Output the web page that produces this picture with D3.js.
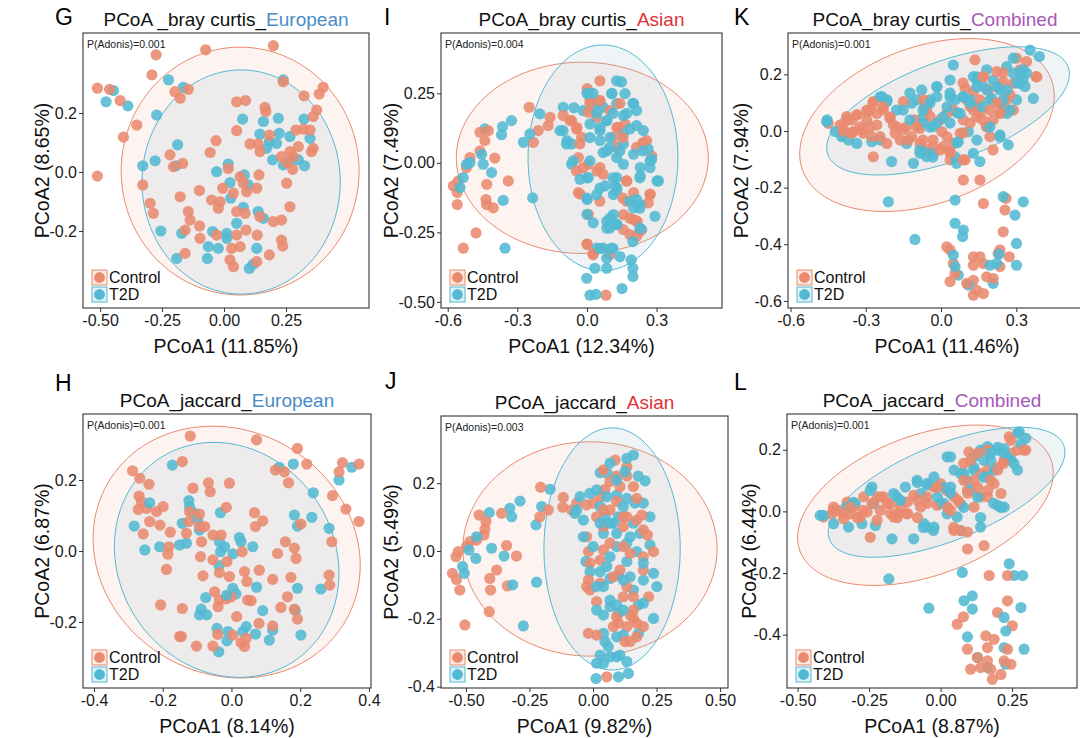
<!DOCTYPE html>
<html><head><meta charset="utf-8">
<script src="https://cdn.jsdelivr.net/npm/d3@7"></script>
<style>body{margin:0;background:#fff}svg{display:block}text{font-family:"Liberation Sans",Arial,sans-serif}</style>
</head><body><svg id="c" width="1080" height="738"></svg>
<script>
// ---------------- DATA ----------------
const groups = ["Control", "T2D"];
const groupColors = ["#E98A6E", "#52B9D3"];

// Panel G: bray curtis, European
const brayEuControl = [[0.199,0.428],[-0.074,0.414],[-0.274,0.397],[-0.291,0.329],[-0.511,0.284],[-0.462,0.280],[-0.419,0.242],[-0.198,0.272],[-0.177,0.250],[-0.144,0.280],[-0.352,0.159],[-0.406,0.118],[-0.511,-0.014],[0.239,0.306],[0.40,0.287],[0.384,0.264],[0.323,0.258],[0.051,0.238],[0.087,0.242],[0.165,0.219],[0.169,0.205],[0.374,0.210],[0.36,0.188],[0.051,0.140],[0.290,0.142],[0.320,0.145],[0.347,0.142],[0.183,0.125],[0.105,0.095],[0.138,0.095],[0.145,0.069],[0.360,0.080],[0.353,0.069],[0.30,0.086],[0.266,0.069],[0.28,0.052],[0.232,0.052],[0.253,0.032],[0.277,0.009],[-0.032,0.106],[-0.056,0.066],[-0.218,0.058],[-0.167,0.029],[-0.204,0.018],[-0.328,-0.044],[-0.298,-0.106],[-0.285,-0.140],[-0.177,-0.084],[-0.099,-0.063],[-0.144,-0.134],[-0.137,-0.163],[-0.05,-0.095],[-0.016,-0.101],[-0.023,-0.123],[-0.005,-0.055],[0.017,0.012],[0.065,-0.016],[0.078,-0.038],[0.038,-0.072],[0.091,-0.067],[0.051,-0.134],[0.085,-0.140],[0.141,-0.010],[0.132,-0.055],[0.253,-0.038],[0.266,-0.118],[0.145,-0.151],[0.199,-0.168],[0.232,-0.163],[-0.157,-0.197],[-0.099,-0.183],[-0.097,-0.225],[-0.03,-0.214],[0.051,-0.214],[0.089,-0.197],[0.134,-0.214],[0.232,-0.231],[0.237,-0.251],[0.031,-0.259],[0.065,-0.253],[-0.157,-0.276],[0.024,-0.298],[0.038,-0.321],[0.132,-0.304],[0.183,-0.281]];
const brayEuT2D = [[0.239,0.312],[-0.224,0.312],[-0.164,0.287],[-0.446,0.276],[-0.476,0.238],[-0.388,0.224],[-0.272,0.193],[0.075,0.179],[0.159,0.171],[0.219,0.182],[0.323,0.179],[0.145,0.128],[0.223,0.131],[0.266,0.120],[0.347,0.114],[0.183,0.103],[0.212,0.097],[0.172,0.080],[-0.187,0.092],[-0.278,0.038],[-0.328,0.021],[-0.194,0.021],[0.196,0.041],[0.269,0.038],[0.30,0.041],[0.325,0.021],[0.239,0.024],[0.017,0.027],[-0.03,0.001],[0.082,-0.010],[0.024,-0.036],[0.098,-0.044],[0.027,-0.089],[0.078,-0.120],[0.138,-0.134],[0.159,-0.157],[0.051,-0.174],[-0.255,-0.2],[-0.171,-0.208],[-0.046,-0.202],[0.011,-0.208],[0.011,-0.225],[-0.063,-0.253],[-0.023,-0.259],[0.132,-0.259],[-0.191,-0.293],[-0.067,-0.293],[0.102,-0.327],[0.118,-0.312]];
// ellipse: [centerX, centerY, axis1X, axis1Y, axis2X, axis2Y] in data units
const brayEuEllipses = [[0.065,0.003,0.48,0,0,0.42],[0.069,-0.034,0.40,0,0,0.38]];

// Panel I: bray curtis, Asian
const brayAsControl = [[0.056,0.295],[0.001,0.267],[0.013,0.225],[0.056,0.219],[-0.249,0.200],[-0.159,0.164],[-0.167,0.134],[-0.210,0.116],[-0.231,0.074],[-0.102,0.170],[-0.066,0.152],[-0.045,0.122],[-0.023,0.092],[0.006,0.182],[0.042,0.164],[0.099,0.188],[0.135,0.128],[0.164,0.140],[0.114,0.092],[0.128,0.056],[0.214,0.056],[0.243,0.068],[0.257,0.080],[0.279,0.025],[-0.461,0.110],[-0.425,0.116],[-0.440,0.080],[-0.461,0.043],[-0.504,0.019],[-0.519,-0.017],[-0.555,-0.065],[-0.576,-0.083],[-0.559,-0.107],[-0.559,-0.150],[-0.432,-0.077],[-0.435,-0.132],[-0.432,-0.150],[-0.404,-0.162],[-0.397,0.017],[-0.339,-0.065],[-0.478,-0.252],[-0.533,-0.307],[-0.037,0.019],[0.006,-0.005],[0.056,-0.017],[-0.045,-0.029],[0.070,-0.041],[-0.037,-0.107],[0.056,-0.138],[0.171,-0.065],[0.201,-0.107],[0.171,-0.138],[0.272,-0.114],[0.264,-0.144],[0.157,-0.186],[0.201,-0.204],[0.214,-0.210],[0.157,-0.240],[0.185,-0.258],[0.214,-0.264],[0.006,-0.186],[0.001,-0.292],[0.027,-0.331],[0.082,-0.476],[0.099,-0.331],[0.228,-0.246],
  [0.013,0.214],[0.056,0.225],[-0.073,0.152],[-0.043,0.127],[-0.030,0.069],[0.129,0.127],[0.155,0.091],[0.241,0.072],[-0.017,-0.018],[0.043,-0.029],[0.172,-0.065],[-0.030,-0.112],[0.155,-0.127],[0.272,-0.112],[0.185,-0.199],[0.216,-0.210],[0.000,-0.293],[0.026,-0.326],[0.142,0.214]];
const brayAsT2D = [[0.128,0.295],[0.149,0.291],[0.106,0.249],[0.164,0.249],[0.006,0.249],[-0.102,0.200],[-0.056,0.198],[-0.016,0.188],[0.024,0.200],[0.070,0.200],[0.128,0.213],[0.201,0.213],[0.214,0.188],[-0.203,0.176],[-0.325,0.152],[-0.364,0.130],[-0.368,0.101],[-0.440,0.122],[-0.274,0.074],[-0.246,0.104],[-0.116,0.116],[-0.088,0.068],[-0.066,0.068],[0.013,0.140],[0.056,0.128],[0.085,0.152],[0.157,0.170],[0.157,0.104],[0.185,0.122],[0.214,0.134],[0.243,0.116],[0.056,0.080],[0.099,0.056],[0.157,0.068],[0.201,0.031],[0.264,0.050],[0.279,0.013],[0.070,0.037],[0.128,0.019],[0.157,-0.005],[0.230,-0.017],[0.272,-0.017],[0.308,-0.065],[0.230,-0.047],[-0.066,-0.005],[-0.030,-0.059],[0.006,-0.053],[0.078,-0.083],[0.121,-0.083],[0.128,-0.053],[0.042,-0.114],[0.114,-0.114],[0.128,-0.101],[0.001,-0.132],[0.214,-0.132],[0.228,-0.150],[0.293,-0.192],[0.114,-0.186],[0.085,-0.210],[0.099,-0.234],[0.027,-0.216],[0.128,-0.222],[0.236,-0.240],[-0.519,-0.005],[-0.504,0.001],[-0.454,0.031],[-0.447,-0.005],[-0.411,-0.035],[-0.533,-0.053],[-0.547,-0.089],[-0.361,-0.135],[-0.234,-0.126],[-0.353,-0.307],[0.042,-0.307],[0.070,-0.307],[0.106,-0.307],[0.085,-0.343],[0.142,-0.337],[0.191,-0.349],[0.198,-0.379],[0.198,-0.409],[0.085,-0.379],[0.034,-0.379],[-0.001,-0.415],[0.151,-0.452],[0.013,-0.476],[0.039,-0.473],[0.201,-0.162],
  [0.026,0.250],[0.000,0.250],[0.108,0.250],[0.043,0.178],[0.086,0.152],[0.112,0.178],[0.172,0.178],[0.198,0.214],[0.056,0.116],[0.099,0.091],[0.142,0.043],[0.086,0.043],[0.013,0.091],[-0.103,0.116],[-0.086,0.080],[-0.060,0.007],[0.013,0.007],[0.000,-0.054],[0.056,-0.091],[0.112,-0.054],[0.228,-0.054],[0.302,-0.065],[0.000,-0.127],[0.129,-0.091],[0.185,-0.138],[0.228,-0.163],[0.000,-0.185],[0.099,-0.199],[0.086,-0.235],[0.129,-0.221],[0.228,-0.235],[0.056,-0.308],[0.112,-0.308],[0.198,-0.283],[0.241,0.043],[0.272,0.007]];
const brayAsEllipses = [[-0.02,0.018,0.543,0,0,0.344],[0.069,0.018,0.323,0,0,0.406]];

// Panel K: bray curtis, Combined
const brayCoControl = [[-0.449,0.027],[-0.402,0.021],[-0.376,0.051],[-0.356,0.039],[-0.336,0.057],[-0.323,0.015],[-0.296,0.039],[-0.283,0.074],[-0.270,0.104],[-0.256,0.021],[-0.349,-0.002],[-0.309,-0.008],[-0.376,-0.008],[-0.276,-0.020],[-0.230,0.074],[-0.203,0.045],[-0.183,-0.008],[-0.163,-0.032],[-0.150,0.104],[-0.104,0.039],[-0.084,0.009],[-0.057,0.074],[-0.031,-0.055],[0.003,-0.002],[0.009,-0.055],[-0.270,-0.091],[0.049,-0.044],[0.036,-0.102],[0.096,-0.102],[0.076,-0.008],[0.089,0.039],[0.102,0.110],[0.096,0.151],[0.135,0.251],[0.116,0.086],[0.155,0.062],[0.182,0.015],[0.208,0.039],[0.195,-0.020],[0.235,0.062],[0.255,0.074],[0.262,0.110],[0.288,0.168],[0.301,0.257],[0.341,0.245],[0.379,0.192],[0.315,0.216],[0.222,0.210],[0.189,0.145],[0.129,0.139],[0.089,-0.173],[0.155,-0.173],[0.169,-0.256],[0.259,-0.238],[0.255,-0.279],[0.248,-0.356],[0.036,-0.420],[0.023,-0.409],[0.049,-0.468],[0.129,-0.444],[0.155,-0.444],[0.129,-0.474],[0.169,-0.468],[0.182,-0.515],[0.129,-0.527],[0.142,-0.562],[0.169,-0.574],[0.129,-0.580],[0.235,-0.479],[0.272,-0.444],[0.228,-0.432],[0.235,-0.420],[0.036,-0.532],[0.102,-0.538],[0.056,-0.503],[0.208,-0.521],[-0.044,0.051],[-0.004,0.039],[0.023,0.062],[0.049,0.074],[-0.137,0.015],[-0.117,-0.020],[-0.084,-0.044],[-0.057,-0.067],[0.036,-0.073],[-0.070,0.110],[0.155,0.110],[0.129,0.074],[0.169,0.192],[0.248,0.174],[0.288,0.074],[0.275,0.127],[-0.243,-0.020],[-0.216,-0.044],[-0.389,-0.002],[-0.296,0.074],[-0.256,0.062],[-0.190,0.021],
  [-0.375,0.039],[-0.335,0.057],[-0.295,0.067],[-0.271,0.099],[-0.283,0.014],[-0.315,0.004],[-0.355,-0.007],[-0.390,0.011],[-0.231,0.085],[-0.203,0.049],[-0.175,0.014],[-0.151,0.004],[-0.131,-0.032],[-0.072,-0.032],[-0.032,-0.032],[-0.004,-0.067],[0.024,-0.021],[0.088,-0.007],[0.116,0.028],[0.143,0.049],[0.167,0.039],[0.195,0.074],[0.223,0.099],[0.235,0.064],[0.088,0.170],[0.167,0.191],[0.247,0.205],[0.382,0.191],[0.207,-0.067],[0.088,-0.102],[0.036,-0.078],[-0.096,0.014]];
const brayCoT2D = [[-0.456,0.033],[-0.422,-0.002],[-0.396,-0.020],[-0.369,-0.032],[-0.336,-0.044],[-0.276,-0.038],[-0.243,-0.032],[-0.236,0.121],[-0.216,0.104],[-0.177,0.074],[-0.137,-0.044],[-0.117,0.098],[-0.077,0.145],[-0.064,0.086],[-0.044,0.110],[-0.017,0.157],[-0.017,0.121],[0.036,0.180],[0.049,0.233],[0.036,0.121],[0.056,0.110],[-0.070,0.051],[-0.031,0.015],[-0.084,-0.079],[-0.031,-0.079],[-0.057,-0.091],[-0.110,-0.114],[-0.197,-0.108],[0.056,-0.091],[0.069,-0.038],[0.062,-0.114],[0.129,-0.079],[0.155,-0.108],[0.182,0.015],[0.235,-0.014],[0.268,-0.049],[0.109,-0.002],[0.129,0.192],[0.142,0.180],[0.169,0.157],[0.182,0.216],[0.208,0.180],[0.235,0.145],[0.202,0.115],[0.235,0.098],[0.262,0.062],[0.301,0.110],[0.315,0.168],[0.341,0.204],[0.355,0.286],[0.392,0.263],[0.335,0.157],[0.368,0.115],[0.288,0.257],[0.089,0.121],[0.116,0.110],[0.142,0.086],[0.076,0.062],[0.288,0.204],[0.262,0.227],[0.056,-0.244],[-0.210,-0.250],[0.248,-0.232],[0.328,-0.250],[0.295,-0.297],[0.056,-0.326],[0.089,-0.350],[0.086,-0.373],[-0.104,-0.383],[0.049,-0.438],[0.069,-0.509],[0.109,-0.544],[0.195,-0.474],[0.222,-0.468],[0.208,-0.538],[0.231,-0.435],[0.301,-0.397],[0.301,-0.474],[0.056,-0.479],
  [-0.454,0.039],[-0.390,-0.014],[-0.243,0.120],[-0.215,0.110],[-0.124,0.134],[-0.096,0.110],[-0.072,0.074],[-0.044,0.099],[-0.016,0.156],[0.036,0.134],[0.024,0.085],[-0.072,0.028],[-0.044,0.014],[-0.016,0.028],[0.008,0.049],[-0.124,0.039],[-0.151,0.074],[-0.084,-0.067],[-0.056,-0.078],[-0.032,-0.092],[0.143,0.191],[0.143,0.156],[0.183,0.145],[0.223,0.156],[0.263,0.145],[0.303,0.170],[0.327,0.180],[0.327,0.216],[0.315,0.205],[0.195,0.110],[0.247,0.110],[0.167,0.085],[0.116,0.099],[0.088,0.120],[0.275,0.074],[0.143,-0.032],[0.195,0.014],[0.235,-0.021],[0.064,-0.042],[0.036,0.028],[0.064,0.064]];
const brayCoEllipses = [[-0.056,0.021,0.496,0.160,0.107,-0.260],[0.028,0.071,0.479,0.155,0.068,-0.165]];

// Panel H: jaccard, European
const jacEuControl = [[-0.120,0.324],[0.073,0.313],[0.192,0.289],[-0.143,0.252],[-0.288,0.226],[-0.267,0.205],[-0.240,0.188],[-0.269,0.155],[-0.262,0.139],[-0.271,0.117],[-0.247,0.120],[-0.199,0.125],[-0.218,0.111],[-0.238,0.083],[-0.208,0.073],[-0.257,0.048],[-0.178,0.053],[-0.182,0.012],[-0.185,-0.009],[-0.189,-0.052],[-0.206,-0.152],[-0.143,-0.162],[-0.146,-0.241],[-0.102,-0.268],[-0.131,0.050],[-0.124,0.083],[-0.093,0.069],[-0.087,0.026],[-0.078,0.069],[-0.054,0.045],[-0.030,0.045],[-0.067,0.192],[-0.062,0.167],[-0.112,0.177],[-0.006,0.191],[-0.015,0.123],[-0.090,-0.016],[-0.054,-0.025],[-0.083,-0.070],[-0.035,-0.061],[-0.013,-0.030],[-0.006,-0.072],[0.031,-0.002],[0.038,-0.058],[0.045,-0.086],[0.081,-0.054],[-0.049,-0.115],[-0.035,-0.138],[-0.039,-0.157],[-0.015,-0.135],[-0.001,-0.129],[0.015,-0.185],[0.047,-0.138],[0.057,-0.140],[0.070,0.069],[0.067,0.108],[0.091,0.085],[0.157,0.026],[0.183,0.008],[0.188,-0.021],[0.120,-0.080],[0.173,-0.074],[0.163,-0.129],[0.183,-0.164],[0.192,-0.192],[0.144,-0.159],[0.120,-0.211],[0.080,-0.204],[0.202,0.076],[0.154,0.223],[0.166,0.192],[0.128,0.228],[0.219,0.245],[0.294,0.156],[0.333,0.118],[0.371,0.083],[0.292,0.026],[0.284,-0.068],[0.286,-0.096],[0.313,0.223],[0.323,0.249],[0.371,0.245],[-0.040,-0.235],[-0.054,-0.268],[0.004,-0.237],[0.028,-0.258],[0.038,-0.269],[0.043,-0.246],[-0.151,-0.241],[-0.093,0.104],[-0.122,0.111],[0.134,-0.007]];
const jacEuT2D = [[-0.172,0.242],[0.139,0.236],[0.180,0.245],[0.350,0.236],[0.313,0.200],[0.238,0.164],[-0.124,0.142],[-0.122,0.125],[-0.111,0.108],[-0.143,0.078],[-0.098,0.087],[-0.093,0.059],[-0.238,0.136],[-0.283,0.070],[-0.252,0.003],[-0.209,0.012],[-0.151,0.017],[-0.131,0.022],[-0.032,0.108],[-0.035,0.026],[-0.032,-0.002],[-0.020,0.012],[0.023,0.038],[0.028,0.026],[0.004,-0.008],[0.062,0.012],[-0.036,-0.041],[0.004,-0.105],[0.013,-0.121],[-0.075,-0.131],[-0.088,-0.164],[-0.093,-0.180],[-0.072,-0.180],[-0.042,-0.218],[-0.010,-0.227],[0.033,-0.227],[0.043,-0.213],[0.070,-0.234],[0.110,-0.251],[0.091,-0.168],[0.073,-0.102],[0.183,0.101],[0.192,0.070],[0.234,0.095],[0.284,0.064],[0.260,-0.107],[0.192,-0.105],[0.186,-0.168],[0.202,-0.237],[0.120,-0.223],[-0.014,-0.124],[-0.037,-0.284],[-0.013,-0.253]];
const jacEuEllipses = [[-0.014,-0.003,0.346,-0.194,0.177,0.297],[-0.014,-0.025,0.203,-0.281,0.256,0.175]];

// Panel J: jaccard, Asian
const jacAsControl = [[0.087,0.268],[0.133,0.249],[0.133,0.221],[0.093,0.221],[0.067,0.205],[0.047,0.182],[0.028,0.160],[0.001,0.141],[-0.025,0.136],[-0.064,0.141],[-0.084,0.121],[-0.117,0.158],[-0.119,0.129],[-0.176,0.121],[-0.206,0.188],[-0.209,0.101],[-0.448,0.106],[-0.421,0.087],[-0.425,0.064],[-0.429,0.047],[-0.458,0.032],[-0.484,0.028],[-0.497,0.013],[-0.530,-0.002],[-0.539,-0.017],[-0.553,-0.066],[-0.537,-0.084],[-0.524,-0.115],[-0.504,-0.218],[-0.408,-0.179],[-0.403,-0.115],[-0.406,-0.081],[-0.379,-0.056],[-0.340,0.016],[-0.301,-0.015],[-0.337,-0.103],[-0.360,0.111],[-0.018,-0.002],[-0.012,-0.036],[0.028,-0.027],[0.067,0.023],[0.119,0.072],[0.133,0.101],[0.172,0.091],[0.192,0.106],[0.214,0.047],[0.238,-0.002],[-0.018,-0.086],[0.028,-0.095],[-0.012,-0.115],[0.014,-0.149],[0.080,-0.076],[0.106,-0.056],[0.133,-0.105],[0.159,-0.135],[0.198,-0.056],[0.219,-0.135],[0.146,-0.189],[0.159,-0.199],[0.133,-0.223],[0.080,-0.223],[0.100,-0.213],[0.172,-0.213],[0.126,-0.267],[0.146,-0.267],[0.014,-0.248],[-0.018,-0.243],[0.054,-0.371],[0.041,0.072],[0.014,0.101],[0.093,0.146],[0.172,0.155],[0.067,0.121],[0.119,0.013],[0.146,-0.007],
  [0.041,0.239],[0.106,0.190],[0.159,0.190],[0.041,0.121],[0.119,0.101],[0.198,0.062],[-0.025,0.042],[0.041,0.003],[0.198,-0.017],[-0.025,-0.105],[0.119,-0.135],[0.159,-0.174],[0.093,-0.194],[0.172,-0.253],[0.198,-0.223]];
const jacAsT2D = [[0.159,0.283],[0.133,0.273],[0.028,0.231],[0.056,0.229],[0.126,0.234],[0.178,0.221],[0.205,0.207],[-0.169,0.182],[-0.287,0.147],[-0.327,0.126],[-0.320,0.101],[-0.408,0.113],[-0.202,0.131],[-0.224,0.077],[-0.051,0.160],[-0.012,0.170],[-0.071,0.111],[-0.038,0.091],[0.028,0.131],[0.054,0.160],[0.093,0.165],[0.133,0.155],[0.165,0.141],[0.198,0.141],[0.224,0.101],[0.047,0.101],[0.080,0.082],[0.100,0.101],[0.159,0.082],[0.185,0.052],[0.041,0.052],[0.093,0.052],[0.093,0.013],[0.133,0.023],[0.172,-0.002],[0.224,0.018],[0.133,-0.031],[-0.028,-0.031],[-0.012,-0.061],[0.028,-0.061],[0.054,-0.046],[0.067,-0.081],[0.100,-0.071],[0.146,-0.076],[0.159,-0.115],[0.198,-0.086],[0.238,-0.066],[0.251,-0.105],[0.179,-0.159],[0.041,-0.105],[0.014,-0.174],[0.041,-0.189],[0.067,-0.164],[0.093,-0.159],[0.100,-0.184],[0.238,-0.199],[0.179,-0.243],[0.041,-0.243],[0.047,-0.267],[0.060,-0.282],[0.093,-0.253],[0.119,-0.248],[0.028,-0.307],[0.067,-0.312],[0.106,-0.307],[0.014,-0.331],[0.133,-0.326],[0.139,-0.361],[0.100,-0.371],[0.012,-0.376],[-0.458,0.042],[-0.488,0.003],[-0.461,-0.022],[-0.513,-0.046],[-0.506,-0.066],[-0.399,0.008],[-0.350,-0.015],[-0.316,-0.100],[-0.222,-0.092],[-0.274,-0.221],
  [0.067,0.259],[0.093,0.209],[0.014,0.180],[0.119,0.131],[0.067,0.082],[0.146,0.042],[0.001,0.013],[0.067,-0.017],[0.198,-0.036],[0.014,-0.105],[0.119,-0.086],[0.198,-0.154],[0.067,-0.145],[0.119,-0.174],[0.093,-0.312],[0.041,-0.331],[-0.064,0.121],[-0.038,0.042],[0.028,0.082]];
const jacAsEllipses = [[-0.012,0.006,0.50,0,0,0.316],[0.075,0.006,0.268,0,0,0.357]];

// Panel L: jaccard, Combined
const jacCoControl = [[-0.409,-0.018],[-0.380,-0.008],[-0.357,0.003],[-0.339,-0.024],[-0.316,-0.008],[-0.304,0.014],[-0.281,-0.018],[-0.257,-0.002],[-0.240,0.025],[-0.222,0.047],[-0.211,0.003],[-0.199,0.047],[-0.175,0.025],[-0.164,-0.018],[-0.140,0.014],[-0.117,0.030],[-0.094,0.052],[-0.070,0.014],[-0.047,0.047],[-0.023,0.079],[0.000,0.090],[0.023,0.068],[0.047,0.047],[0.070,0.025],[0.094,0.068],[0.117,0.101],[0.140,0.123],[0.164,0.134],[0.199,0.144],[0.222,0.166],[0.246,0.188],[0.269,0.199],[0.298,0.199],[0.240,0.242],[0.099,0.193],[0.164,0.199],[0.187,0.090],[0.211,0.058],[0.164,0.047],[-0.246,-0.084],[-0.152,-0.008],[-0.222,-0.029],[0.047,-0.062],[0.094,-0.067],[0.094,-0.122],[0.152,-0.111],[0.170,-0.208],[0.234,-0.208],[0.234,-0.290],[0.199,-0.328],[0.251,-0.371],[0.058,-0.366],[0.080,-0.342],[0.158,-0.404],[0.187,-0.415],[0.164,-0.442],[0.094,-0.447],[0.129,-0.474],[0.164,-0.485],[0.105,-0.512],[0.140,-0.507],[0.181,-0.545],[0.211,-0.529],[0.222,-0.485],[0.246,-0.496],[0.234,-0.447],[0.175,-0.512],[-0.327,0.030],[-0.374,0.014],[-0.269,0.047],[-0.117,-0.008],[-0.012,0.020],[0.035,0.003],[0.117,0.014],[0.140,0.047],
  [-0.375,0.003],[-0.340,-0.007],[-0.316,0.013],[-0.291,-0.020],[-0.270,0.003],[-0.235,0.026],[-0.211,0.046],[-0.186,0.026],[-0.175,-0.007],[-0.151,-0.020],[-0.116,-0.007],[-0.081,-0.020],[-0.081,0.036],[-0.046,0.026],[-0.011,0.078],[0.025,0.013],[0.060,0.036],[0.095,0.059],[0.081,0.101],[0.130,0.078],[0.165,0.068],[0.175,0.101],[0.200,0.134],[0.221,0.156],[0.105,0.166],[0.130,0.189],[0.246,0.231],[0.291,0.199],[0.081,0.156],[0.070,-0.062],[0.046,-0.052]];
const jacCoT2D = [[-0.421,-0.013],[-0.374,-0.040],[-0.322,-0.051],[-0.298,0.025],[-0.275,-0.040],[-0.240,0.079],[-0.228,-0.046],[-0.170,-0.089],[-0.094,-0.089],[-0.181,-0.219],[-0.082,0.101],[-0.047,0.085],[-0.070,0.058],[-0.058,-0.040],[-0.023,-0.051],[-0.152,0.047],[-0.123,0.079],[0.000,0.025],[0.023,-0.008],[0.058,-0.018],[0.023,0.177],[0.035,0.177],[0.070,0.123],[0.094,0.101],[0.117,0.134],[0.117,0.177],[0.140,0.199],[0.164,0.210],[0.175,0.166],[0.199,0.199],[0.222,0.204],[0.234,0.177],[0.257,0.155],[0.269,0.134],[0.281,0.220],[0.275,0.258],[0.298,0.237],[0.211,0.014],[0.222,0.014],[0.199,0.020],[0.070,-0.062],[0.140,-0.051],[0.076,-0.198],[0.240,-0.170],[0.257,-0.208],[0.287,-0.208],[0.082,-0.290],[0.111,-0.274],[0.111,-0.317],[-0.041,-0.314],[0.222,-0.344],[0.228,-0.388],[0.281,-0.312],[0.094,-0.407],[0.129,-0.474],[0.164,-0.507],[0.222,-0.442],[0.292,-0.447],[0.228,-0.496],[-0.047,-0.051],[0.035,0.079],[-0.023,0.112],[0.047,0.134],[0.105,0.068],[0.164,0.112],[0.187,0.134],[-0.234,0.025],[-0.164,0.058],[-0.327,0.014],
  [-0.410,-0.013],[-0.305,0.029],[-0.246,0.068],[-0.140,0.036],[-0.081,0.094],[-0.046,0.091],[-0.011,0.046],[0.011,0.026],[0.035,0.059],[0.011,0.078],[-0.060,-0.052],[-0.025,-0.062],[0.081,0.124],[0.116,0.143],[0.151,0.166],[0.175,0.189],[0.221,0.189],[0.246,0.166],[0.200,0.208],[0.151,0.111],[0.130,0.046],[0.081,0.013],[0.186,0.026],[0.211,0.013],[0.270,0.254],[0.140,-0.020]];
const jacCoEllipses = [[-0.053,0.020,0.439,0.148,0.084,-0.214],[0.021,0.062,0.409,0.154,0.063,-0.144]];

// Text / tick data
const panelLetters = ["G","I","K","H","J","L"];
const metricTitles = ["PCoA _bray curtis_","PCoA_bray curtis_","PCoA_bray curtis_","PCoA_jaccard_","PCoA_jaccard_","PCoA_jaccard_"];
const popTitles = ["European","Asian","Combined","European","Asian","Combined"];
const popColors = {European:"#4A8CC6", Asian:"#E0303A", Combined:"#A557B9"};
const adonisP = ["0.001","0.004","0.001","0.001","0.003","0.001"];
const xTitles = ["PCoA1 (11.85%)","PCoA1 (12.34%)","PCoA1 (11.46%)","PCoA1 (8.14%)","PCoA1 (9.82%)","PCoA1 (8.87%)"];
const yTitles = ["PCoA2 (8.65%)","PCoA2 (7.49%)","PCoA2 (7.94%)","PCoA2 (6.87%)","PCoA2 (5.49%)","PCoA2 (6.44%)"];
const xTickVals = [[-0.5,-0.25,0,0.25],[-0.6,-0.3,0,0.3],[-0.6,-0.3,0,0.3],[-0.4,-0.2,0,0.2,0.4],[-0.5,-0.25,0,0.25,0.5],[-0.5,-0.25,0,0.25]];
const xTickLabels = [["-0.50","-0.25","0.00","0.25"],["-0.6","-0.3","0.0","0.3"],["-0.6","-0.3","0.0","0.3"],["-0.4","-0.2","0.0","0.2","0.4"],["-0.50","-0.25","0.00","0.25","0.50"],["-0.50","-0.25","0.00","0.25"]];
const yTickVals = [[-0.2,0,0.2],[-0.5,-0.25,0,0.25],[-0.6,-0.4,-0.2,0,0.2],[-0.2,0,0.2],[-0.4,-0.2,0,0.2],[-0.4,-0.2,0,0.2]];
const yTickLabels = [["-0.2","0.0","0.2"],["-0.50","-0.25","0.00","0.25"],["-0.6","-0.4","-0.2","0.0","0.2"],["-0.2","0.0","0.2"],["-0.4","-0.2","0.0","0.2"],["-0.4","-0.2","0.0","0.2"]];
const xDomains = [[-0.569,0.585],[-0.629,0.582],[-0.610,0.562],[-0.432,0.406],[-0.598,0.531],[-0.537,0.477]];
const yDomains = [[-0.461,0.471],[-0.522,0.467],[-0.625,0.346],[-0.386,0.386],[-0.404,0.398],[-0.573,0.316]];
const pointSets = [[brayEuControl,brayEuT2D],[brayAsControl,brayAsT2D],[brayCoControl,brayCoT2D],[jacEuControl,jacEuT2D],[jacAsControl,jacAsT2D],[jacCoControl,jacCoT2D]];
const ellipseSets = [brayEuEllipses,brayAsEllipses,brayCoEllipses,jacEuEllipses,jacAsEllipses,jacCoEllipses];

// ---------------- LAYOUT ----------------
const boxes = [
  {x0:83,y0:33,x1:369,y1:308, letterX:55, letterY:25, yTitleX:43},
  {x0:441,y0:33,x1:722,y1:308, letterX:384, letterY:25, yTitleX:392},
  {x0:788,y0:33,x1:1082,y1:308, letterX:734, letterY:25, yTitleX:742},
  {x0:83,y0:414,x1:371,y1:688, letterX:55, letterY:391, yTitleX:43},
  {x0:441,y0:416,x1:728,y1:688, letterX:385, letterY:389, yTitleX:392},
  {x0:787,y0:414,x1:1077,y1:688, letterX:734, letterY:390, yTitleX:750}
];
const fillColors = ["rgba(240,150,120,0.10)","rgba(150,190,200,0.15)"];
const keyFills = ["#FBEAE4","#E2F1F5"];

const svg = d3.select("#c");

boxes.forEach((b, i) => {
  const g = svg.append("g");
  const x = d3.scaleLinear().domain(xDomains[i]).range([b.x0, b.x1]);
  const y = d3.scaleLinear().domain(yDomains[i]).range([b.y1, b.y0]);

  // ellipses
  const line = d3.line().x(d => x(d[0])).y(d => y(d[1]));
  ellipseSets[i].forEach((e, gi) => {
    const pts = d3.range(0, 121).map(k => {
      const t = k / 120 * 2 * Math.PI;
      return [e[0] + e[2]*Math.cos(t) + e[4]*Math.sin(t), e[1] + e[3]*Math.cos(t) + e[5]*Math.sin(t)];
    });
    g.append("path").attr("d", line(pts) + "Z")
      .attr("fill", fillColors[gi]).attr("stroke", groupColors[gi]).attr("stroke-width", 1);
  });

  // points (interleave groups)
  const [c, t] = pointSets[i];
  const all = [];
  const n = Math.max(c.length, t.length);
  for (let k = 0; k < n; k++) {
    if (k < c.length) all.push({p:c[k], gi:0});
    if (k < t.length) all.push({p:t[k], gi:1});
  }
  g.selectAll("circle.pt").data(all).enter().append("circle")
    .attr("cx", d => x(d.p[0])).attr("cy", d => y(d.p[1])).attr("r", 5.6)
    .attr("fill", d => groupColors[d.gi]).attr("fill-opacity", 0.88);

  // frame
  g.append("rect").attr("x", b.x0).attr("y", b.y0).attr("width", b.x1 - b.x0).attr("height", b.y1 - b.y0)
    .attr("fill", "none").attr("stroke", "#333").attr("stroke-width", 1.1);

  // axes
  const xa = d3.axisBottom(x).tickValues(xTickVals[i]).tickFormat((d, k) => xTickLabels[i][k]).tickSize(4).tickPadding(3);
  const ya = d3.axisLeft(y).tickValues(yTickVals[i]).tickFormat((d, k) => yTickLabels[i][k]).tickSize(4).tickPadding(2);
  const gx = g.append("g").attr("transform", `translate(0,${b.y1})`).call(xa);
  const gy = g.append("g").attr("transform", `translate(${b.x0},0)`).call(ya);
  [gx, gy].forEach(a => {
    a.select(".domain").remove();
    a.selectAll("line").attr("stroke", "#333");
    a.selectAll("text").attr("fill", "#1a1a1a").style("font-size", "16px").style("font-family", '"Liberation Sans",Arial,sans-serif');
  });

  // P(Adonis)
  g.append("text").attr("x", b.x0 + 4).attr("y", b.y0 + 15).attr("font-size", 10.5).attr("fill", "#222")
    .text("P(Adonis)=" + adonisP[i]);

  // title
  const cx = (b.x0 + Math.min(b.x1, 1080)) / 2;
  const tt = g.append("text").attr("x", i === 2 ? 935 : cx).attr("y", b.y0 - 7).attr("text-anchor", "middle").attr("font-size", 19);
  tt.append("tspan").attr("fill", "#111").text(metricTitles[i]);
  tt.append("tspan").attr("fill", popColors[popTitles[i]]).text(popTitles[i]);

  // panel letter
  g.append("text").attr("x", b.letterX).attr("y", b.letterY).attr("font-size", 23).attr("fill", "#000").text(panelLetters[i]);

  // axis titles
  g.append("text").attr("x", i === 2 ? 947 : (b.x0 + b.x1) / 2).attr("y", b.y1 + 45).attr("text-anchor", "middle")
    .attr("font-size", 19.5).attr("fill", "#111").text(xTitles[i]);
  g.append("text").attr("transform", `translate(${b.yTitleX + 6},${(b.y0 + b.y1) / 2}) rotate(-90)`)
    .attr("text-anchor", "middle").attr("font-size", 19.5).attr("fill", "#111").text(yTitles[i]);

  // legend
  groups.forEach((name, gi) => {
    const ky = b.y1 - 38 + gi * 17;
    const kx = b.x0 + 9;
    g.append("rect").attr("x", kx).attr("y", ky).attr("width", 15).attr("height", 15)
      .attr("fill", keyFills[gi]).attr("stroke", groupColors[gi]).attr("stroke-width", 1);
    g.append("circle").attr("cx", kx + 7.5).attr("cy", ky + 7.5).attr("r", 5.4).attr("fill", groupColors[gi]);
    g.append("text").attr("x", kx + 17).attr("y", ky + 13).attr("font-size", 16).attr("fill", "#111").text(name);
  });
});
</script></body></html>
